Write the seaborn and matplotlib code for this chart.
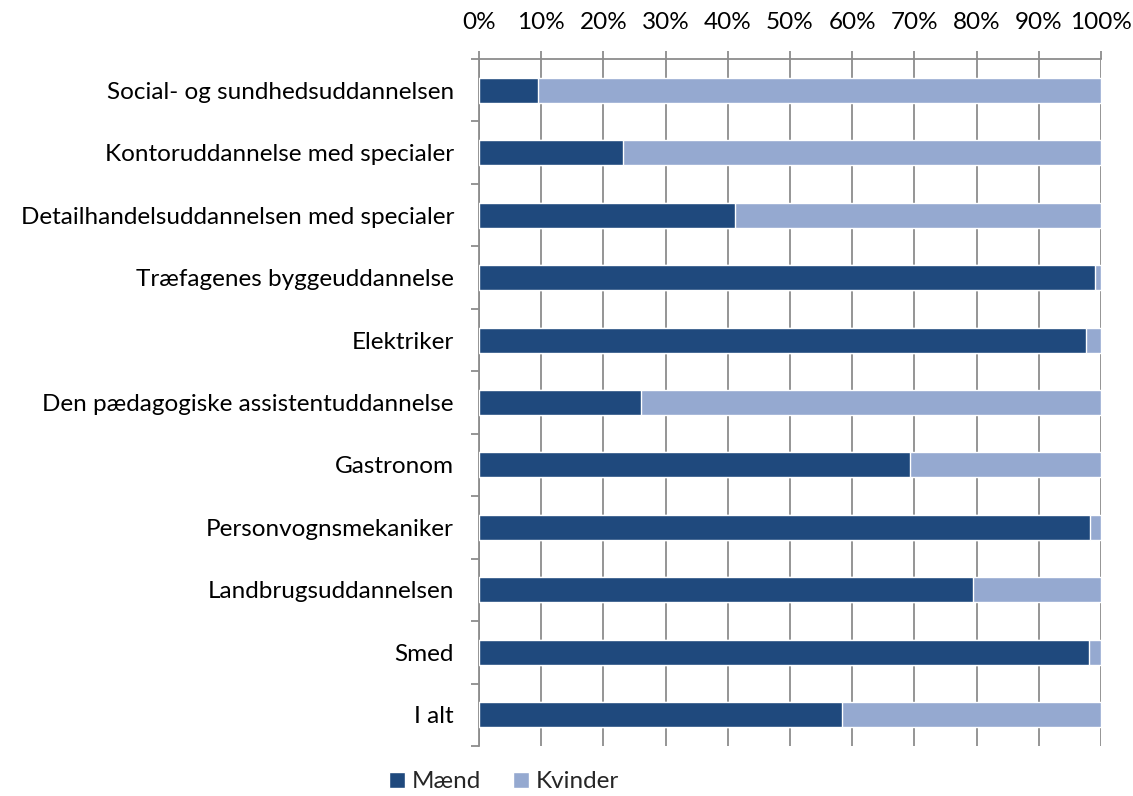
import numpy as np
import pandas as pd
import seaborn as sns
import matplotlib.pyplot as plt
from matplotlib.patches import Patch
from matplotlib.ticker import FuncFormatter, MultipleLocator

# andel maend / kvinder pr. uddannelse (procent)
uddannelser = [
    "Social- og sundhedsuddannelsen",
    "Kontoruddannelse med specialer",
    "Detailhandelsuddannelsen med specialer",
    "Træfagenes byggeuddannelse",
    "Elektriker",
    "Den pædagogiske assistentuddannelse",
    "Gastronom",
    "Personvognsmekaniker",
    "Landbrugsuddannelsen",
    "Smed",
    "I alt",
]
maend = [9.5, 23.2, 41.2, 99.0, 97.6, 26.0, 69.3, 98.2, 79.4, 98.0, 58.4]
kvinder = [90.5, 76.8, 58.8, 1.0, 2.4, 74.0, 30.7, 1.8, 20.6, 2.0, 41.6]

df = pd.DataFrame({"Uddannelse": uddannelser, "Mænd": maend, "Kvinder": kvinder})
df["Total"] = df["Mænd"] + df["Kvinder"]

c_m = "#1F497D"
c_k = "#95A9D0"
grey = "#8C8C8C"
fs = 17.5

sns.set_style("white")
plt.rcParams["font.family"] = ["Lato", "DejaVu Sans"]

fig = plt.figure(figsize=(11.33, 7.96), dpi=100)
ax = fig.add_axes([479 / 1133, 1 - 746 / 796, (1101 - 479) / 1133, (746 - 59) / 796])

# stablede bjaelker: totalen i lys farve, maend ovenpaa
sns.barplot(data=df, y="Uddannelse", x="Total", color=c_k, width=0.4,
            orient="h", ax=ax, saturation=1, zorder=3)
sns.barplot(data=df, y="Uddannelse", x="Mænd", color=c_m, width=0.4,
            orient="h", ax=ax, saturation=1, zorder=4)

ax.set_xlim(0, 100)
ax.set_ylim(len(uddannelser) - 0.5, -0.5)
ax.set_xlabel("")
ax.set_ylabel("")

ax.xaxis.tick_top()
ax.xaxis.set_major_locator(MultipleLocator(10))
ax.xaxis.set_major_formatter(FuncFormatter(lambda v, p: f"{v:.0f}%"))
ax.tick_params(axis="x", which="major", length=6, width=1.3, color=grey,
               pad=13, labelsize=fs, labelcolor="black")
ax.grid(axis="x", color=grey, linewidth=1.3, zorder=0)
ax.set_axisbelow(True)

ax.set_yticks(np.arange(-0.5, len(uddannelser) + 0.5, 1), minor=True)
ax.tick_params(axis="y", which="minor", length=6, width=1.3, color=grey, left=True)
ax.tick_params(axis="y", which="major", length=0, pad=18, labelsize=fs,
               labelcolor="black")

for s in ["right", "bottom"]:
    ax.spines[s].set_visible(False)
for s in ["top", "left"]:
    ax.spines[s].set_color(grey)
    ax.spines[s].set_linewidth(1.3)

handles = [Patch(facecolor=c_m, label="Mænd"), Patch(facecolor=c_k, label="Kvinder")]
fig.legend(handles=handles, loc="lower center", bbox_to_anchor=(0.445, -0.023), ncol=2,
           frameon=False, fontsize=fs, handlelength=0.65, handleheight=0.65,
           handletextpad=0.3, columnspacing=1.3)

fig.savefig("out.png", dpi=100)
